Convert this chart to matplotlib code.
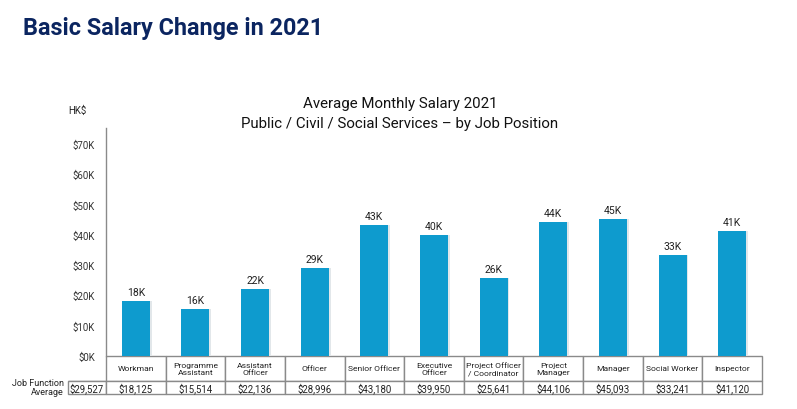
import matplotlib.pyplot as plt

plt.rcParams['font.family'] = ['Roboto', 'DejaVu Sans']

# data
positions = ['Workman', 'Programme\nAssistant', 'Assistant\nOfficer', 'Officer',
             'Senior Officer', 'Executive\nOfficer', 'Project Officer\n/ Coordinator',
             'Project\nManager', 'Manager', 'Social Worker', 'Inspector']
salaries = [18125, 15514, 22136, 28996, 43180, 39950, 25641, 44106, 45093, 33241, 41120]
function_avg = 29527
yticks = [0, 10000, 20000, 30000, 40000, 50000, 60000, 70000]

bar_color = '#0E9BCE'
edge_gray = '#8a8a8a'
W, H = 797, 410

fig = plt.figure(figsize=(W / 100, H / 100), dpi=100)
ax = fig.add_axes([106 / W, 1 - 357 / H, (762 - 106) / W, (357 - 129) / H])

x = list(range(len(salaries)))
# faint shadow, then bars
ax.bar([i + 0.03 for i in x], salaries, width=0.47, color='#e2e7ea', zorder=1)
ax.bar(x, salaries, width=0.47, color=bar_color, zorder=2)
for i, v in zip(x, salaries):
    ax.text(i, v + 1400, f'{round(v / 1000)}K', ha='center', va='bottom',
            fontsize=7.5, color='#222222')

ax.set_xlim(-0.5, len(salaries) - 0.5)
ax.set_ylim(0, 75200)
ax.set_yticks(yticks)
ax.set_yticklabels([f'${t // 1000}K' for t in yticks])
ax.tick_params(axis='y', length=0, pad=8, labelsize=7, labelcolor='#333333')
ax.set_xticks([])
for s in ['top', 'right', 'bottom']:
    ax.spines[s].set_visible(False)
ax.spines['left'].set_color(edge_gray)
ax.spines['left'].set_linewidth(1)

# table under the bars
col_w = (762 - 106) / len(salaries)
first_w = 106 - 68
cell_text = [[''] + positions,
             [f'${function_avg:,}'] + [f'${v:,}' for v in salaries]]
tbl = ax.table(cellText=cell_text, cellLoc='center',
               colWidths=[first_w] + [col_w] * len(salaries),
               bbox=[(68 - 106) / (762 - 106), -(395 - 357) / (357 - 129),
                     (762 - 68) / (762 - 106), (395 - 357) / (357 - 129)])
tbl.auto_set_font_size(False)
for (r, c), cell in tbl.get_celld().items():
    cell.set_edgecolor(edge_gray)
    cell.set_linewidth(1)
    cell.set_height(25 if r == 0 else 13)
    cell.PAD = 0.02
    cell.get_text().set_fontsize(6.1 if r == 0 else 6.9)
    cell.get_text().set_color('#222222')
    if r == 0 and c == 0:
        cell.visible_edges = 'B'

fig.text(64 / W, 1 - 388 / H, 'Job Function\nAverage', ha='right', va='center',
         fontsize=6.5, color='#222222', linespacing=1.05)
fig.text(68 / W, 1 - 111 / H, 'HK$', ha='left', va='center', fontsize=7,
         color='#222222')

fig.text(400 / W, 1 - 104 / H, 'Average Monthly Salary 2021', ha='center',
         va='center', fontsize=10.8, color='#111111')
fig.text(400 / W, 1 - 124 / H, 'Public / Civil / Social Services \u2013 by Job Position',
         ha='center', va='center', fontsize=10.8, color='#111111')

fig.text(23 / W, 1 - 28 / H, 'Basic Salary Change in 2021', ha='left', va='center',
         fontsize=16.8, fontweight='bold', color='#0B2560')

fig.savefig('out.png', dpi=100)
